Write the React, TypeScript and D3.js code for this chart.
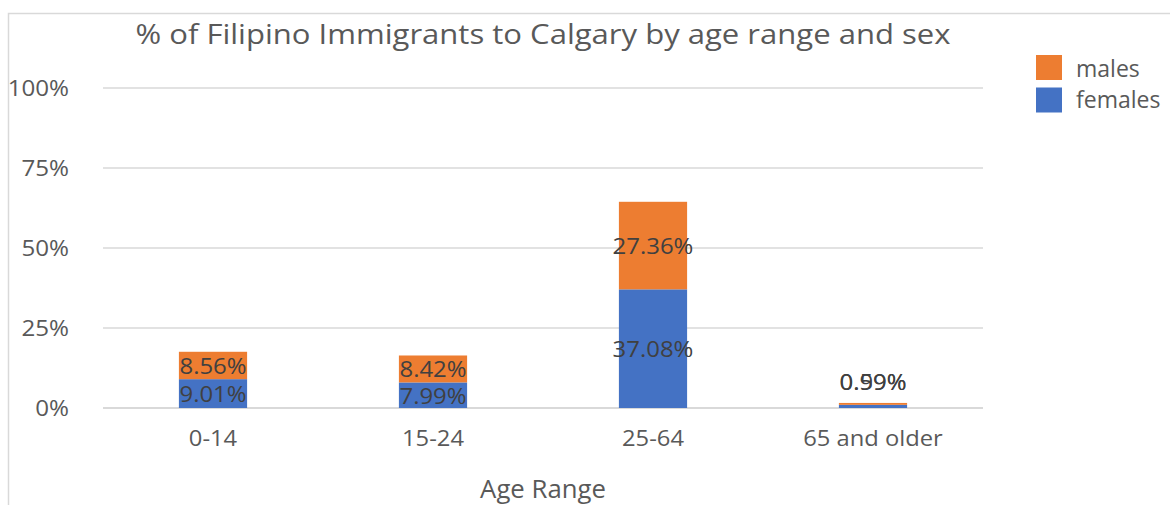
import React from "react";
import * as d3 from "d3";

const categories = ["0-14", "15-24", "25-64", "65 and older"];
const females = [9.01, 7.99, 37.08, 0.99];
const males = [8.56, 8.42, 27.36, 0.59];
const yTicks = [0, 25, 50, 75, 100];
const seriesNames = ["males", "females"];

const W = 1170;
const H = 505;
const FONT = "'Open Sans', Lato, sans-serif";
const TEXT = "#595959";
const LABEL = "#404040";
const BLUE = "#4472C4";
const ORANGE = "#ED7D31";

function T(props: {
  x: number;
  y: number;
  sx?: number;
  size: number;
  anchor?: "start" | "middle" | "end";
  fill?: string;
  dy?: string;
  children: React.ReactNode;
}) {
  const { x, y, sx = 1, size, anchor = "start", fill = TEXT, dy, children } = props;
  return (
    <text
      transform={`translate(${x},${y}) scale(${sx},1)`}
      dy={dy}
      textAnchor={anchor}
      fontFamily={FONT}
      fontSize={size}
      fill={fill}
    >
      {children}
    </text>
  );
}

export default function App() {
  const x = d3.scaleBand<string>().domain(categories).range([103, 983]).paddingInner(0.69).paddingOuter(0.345);
  const y = d3.scaleLinear().domain([0, 100]).range([408, 88]);
  const rows = categories.map((c, i) => ({ cat: c, females: females[i], males: males[i] }));
  const stack = d3.stack<any>().keys(["females", "males"])(rows);
  const colors: Record<string, string> = { females: BLUE, males: ORANGE };
  const fmt = (v: number) => v.toFixed(2) + "%";

  return (
    <svg width={W} height={H} style={{ position: "absolute", left: 0, top: 0, display: "block", background: "#fff" }}>
      <rect x={8.5} y={13.5} width={W} height={H} fill="#fff" stroke="#d9d9d9" strokeWidth={1.5} />
      <text x={543} y={44} textAnchor="middle" fontFamily={FONT} fontSize={28} fill={TEXT} textLength={815} lengthAdjust="spacingAndGlyphs">
        % of Filipino Immigrants to Calgary by age range and sex
      </text>
      {yTicks.map((t) => (
        <g key={t}>
          <line x1={103} x2={983} y1={y(t)} y2={y(t)} stroke="#d9d9d9" strokeWidth={t === 0 ? 2 : 1.5} />
          <T x={69} y={y(t) + 1} sx={1.15} size={21} anchor="end" dy="0.35em">
            {t}%
          </T>
        </g>
      ))}
      {stack.map((layer) => (
        <g key={layer.key}>
          {layer.map((d, i) => (
            <rect
              key={i}
              x={x(categories[i])}
              width={x.bandwidth()}
              y={y(d[1])}
              height={y(d[0]) - y(d[1])}
              fill={colors[layer.key]}
            />
          ))}
        </g>
      ))}
      {stack.map((layer) => (
        <g key={layer.key + "l"}>
          {layer.map((d, i) => {
            const h = y(d[0]) - y(d[1]);
            const cx = (x(categories[i]) as number) + x.bandwidth() / 2;
            const top = y(rows[i].females + rows[i].males);
            const cy = h < 10 ? top - 20 : (y(d[0]) + y(d[1])) / 2 + 1;
            return (
              <T key={i} x={cx} y={cy} sx={1.14} size={21} anchor="middle" fill={LABEL} dy="0.35em">
                {fmt(d[1] - d[0])}
              </T>
            );
          })}
        </g>
      ))}
      {categories.map((c) => (
        <T key={c} x={(x(c) as number) + x.bandwidth() / 2} y={446} sx={1.08} size={22} anchor="middle">
          {c}
        </T>
      ))}
      <T x={543} y={498} sx={1.03} size={25} anchor="middle">
        Age Range
      </T>
      {seriesNames.map((s, i) => (
        <g key={s}>
          <rect x={1036} y={55 + i * 32.5} width={26} height={25} fill={s === "males" ? ORANGE : BLUE} />
          <T x={1076} y={77 + i * 31} size={23}>
            {s}
          </T>
        </g>
      ))}
    </svg>
  );
}
